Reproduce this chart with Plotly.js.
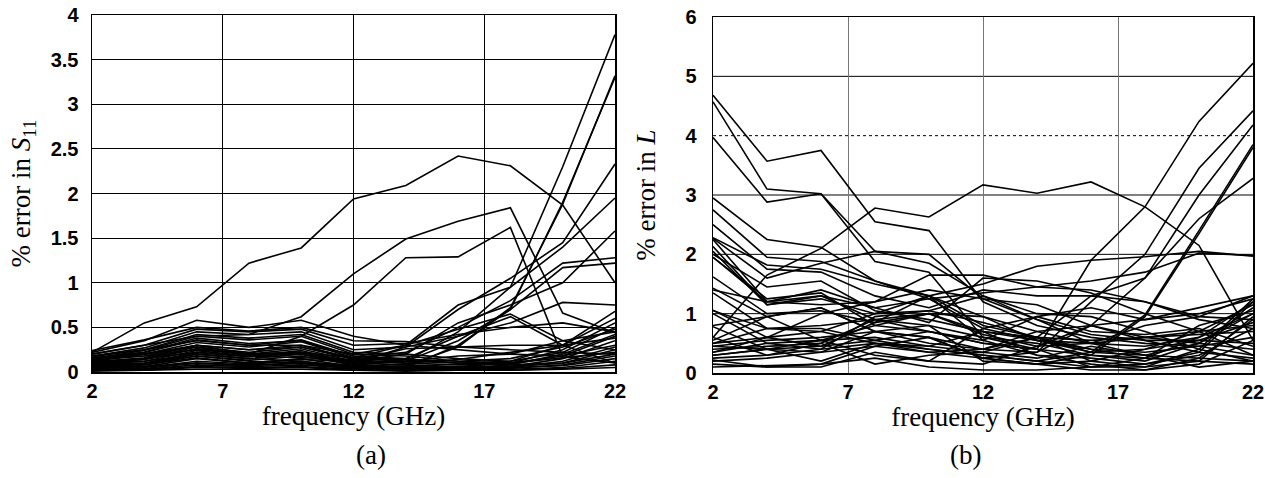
<!DOCTYPE html>
<html>
<head>
<meta charset="utf-8">
<script src="https://cdn.plot.ly/plotly-3.0.1.min.js"></script>
<style>html,body{margin:0;padding:0;background:#fff;}#chart{width:1265px;height:478px;}</style>
</head>
<body>
<div id="chart"></div>
<script>
// frequency points (GHz)
const frequencies = [2,4,6,8,10,12,14,16,18,20,22];
const xTickVals = [2,7,12,17,22];
// (b) horizontal reference lines: solid ones and the dotted 4 % line
const gridSolidB = [1,2,3,5];
const gridDottedB = [4];

// (a) % error in S11, one array per structure
const s11_01 = [0.22,0.55,0.73,1.22,1.39,1.94,2.09,2.42,2.31,1.87,1.00];
const s11_02 = [0.20,0.30,0.40,0.42,0.62,1.10,1.49,1.69,1.84,0.66,0.44];
const s11_03 = [0.15,0.18,0.25,0.20,0.40,0.75,1.28,1.29,1.62,0.17,0.10];
const s11_04 = [0.05,0.06,0.10,0.08,0.10,0.08,0.12,0.45,0.95,2.30,3.78];
const s11_05 = [0.10,0.12,0.20,0.15,0.12,0.06,0.05,0.30,0.70,1.90,3.30];
const s11_06 = [0.08,0.10,0.18,0.12,0.10,0.05,0.07,0.28,0.72,1.88,3.32];
const s11_07 = [0.12,0.15,0.22,0.18,0.20,0.10,0.28,0.70,1.05,1.45,2.33];
const s11_08 = [0.18,0.25,0.35,0.30,0.30,0.20,0.30,0.75,0.95,1.40,1.95];
const s11_09 = [0.10,0.14,0.26,0.20,0.22,0.12,0.20,0.55,0.75,1.00,1.58];
const s11_10 = [0.14,0.20,0.30,0.25,0.28,0.16,0.22,0.50,0.80,1.22,1.28];
const s11_11 = [0.16,0.22,0.38,0.32,0.35,0.18,0.12,0.35,0.70,1.17,1.22];
const s11_12 = [0.22,0.35,0.58,0.50,0.58,0.40,0.30,0.25,0.20,0.35,0.45];
const s11_13 = [0.20,0.30,0.48,0.45,0.48,0.30,0.32,0.42,0.50,0.55,0.45];
const s11_14 = [0.18,0.27,0.45,0.42,0.45,0.25,0.28,0.40,0.55,0.78,0.75];
const s11_15 = [0.17,0.25,0.42,0.38,0.42,0.22,0.20,0.15,0.12,0.30,0.60];
const s11_16 = [0.15,0.24,0.40,0.36,0.40,0.20,0.18,0.12,0.10,0.25,0.55];
const s11_17 = [0.14,0.22,0.36,0.30,0.36,0.18,0.15,0.10,0.12,0.22,0.50];
const s11_18 = [0.12,0.20,0.33,0.28,0.34,0.16,0.14,0.12,0.15,0.28,0.48];
const s11_19 = [0.11,0.16,0.30,0.25,0.30,0.15,0.12,0.10,0.08,0.20,0.42];
const s11_20 = [0.10,0.15,0.28,0.22,0.28,0.14,0.10,0.08,0.10,0.18,0.40];
const s11_21 = [0.09,0.14,0.26,0.20,0.26,0.12,0.10,0.14,0.22,0.30,0.38];
const s11_22 = [0.08,0.12,0.24,0.18,0.24,0.10,0.08,0.06,0.06,0.15,0.35];
const s11_23 = [0.07,0.10,0.22,0.17,0.22,0.10,0.12,0.18,0.20,0.18,0.30];
const s11_24 = [0.06,0.09,0.20,0.15,0.20,0.08,0.06,0.05,0.05,0.12,0.28];
const s11_25 = [0.05,0.08,0.18,0.13,0.18,0.08,0.05,0.04,0.08,0.10,0.25];
const s11_26 = [0.05,0.06,0.15,0.10,0.15,0.06,0.05,0.06,0.10,0.16,0.22];
const s11_27 = [0.04,0.05,0.12,0.09,0.12,0.05,0.04,0.05,0.06,0.10,0.20];
const s11_28 = [0.03,0.04,0.10,0.07,0.10,0.04,0.05,0.04,0.04,0.08,0.18];
const s11_29 = [0.03,0.03,0.08,0.06,0.08,0.04,0.03,0.03,0.05,0.07,0.15];
const s11_30 = [0.02,0.03,0.06,0.05,0.06,0.03,0.02,0.03,0.03,0.05,0.12];
const s11_31 = [0.02,0.02,0.05,0.04,0.05,0.02,0.02,0.02,0.02,0.04,0.08];
const s11_32 = [0.01,0.02,0.03,0.03,0.03,0.02,0.01,0.02,0.02,0.03,0.05];
const s11_33 = [0.24,0.36,0.50,0.46,0.50,0.35,0.34,0.28,0.25,0.22,0.20];
const s11_34 = [0.13,0.18,0.30,0.20,0.22,0.16,0.30,0.48,0.65,0.35,0.25];
const s11_35 = [0.16,0.20,0.28,0.18,0.16,0.14,0.15,0.40,0.62,0.30,0.68];
const s11_36 = [0.06,0.08,0.16,0.10,0.14,0.12,0.26,0.28,0.30,0.30,0.10];

// (b) % error in L, one array per structure
const L_01 = [4.68,3.57,3.75,2.55,2.40,1.20,0.80,0.60,0.50,0.45,0.30];
const L_02 = [4.57,3.10,3.02,2.05,1.85,1.30,0.90,0.50,0.30,0.25,0.20];
const L_03 = [3.97,2.88,3.02,1.88,1.70,0.60,0.40,0.30,0.25,0.20,0.15];
const L_04 = [2.95,2.25,2.12,1.55,1.30,0.80,0.60,0.55,0.60,0.70,0.80];
const L_05 = [0.60,1.65,2.10,2.78,2.63,3.17,3.03,3.22,2.80,2.15,0.55];
const L_06 = [0.30,0.40,0.45,0.55,0.70,0.50,0.40,1.90,2.80,4.24,5.22];
const L_07 = [0.45,0.55,0.60,0.70,0.60,0.40,0.35,1.20,2.00,3.45,4.42];
const L_08 = [0.35,0.50,0.55,0.80,1.00,0.65,0.45,0.80,1.60,3.00,4.18];
const L_09 = [0.25,0.30,0.40,0.50,0.40,0.30,0.20,0.35,0.98,2.40,3.85];
const L_10 = [0.20,0.25,0.35,0.45,0.35,0.25,0.15,0.30,0.95,2.35,3.80];
const L_11 = [1.05,0.75,0.70,0.50,0.45,0.35,0.60,1.30,1.60,2.60,3.28];
const L_12 = [2.28,1.82,1.75,1.50,1.30,1.50,1.80,1.90,1.96,2.05,1.97];
const L_13 = [1.95,1.20,1.40,1.10,1.25,1.35,1.45,1.55,1.70,2.02,1.98];
const L_14 = [2.75,1.95,1.88,1.55,1.25,0.75,0.55,0.50,0.60,0.65,0.70];
const L_15 = [2.50,1.75,1.70,1.30,1.10,1.40,1.30,1.30,1.20,0.90,0.75];
const L_16 = [2.27,1.60,1.85,2.05,2.00,1.25,0.90,0.65,0.55,0.55,0.50];
const L_17 = [2.25,1.20,1.15,1.20,1.65,1.65,1.45,1.40,1.20,0.95,0.90];
const L_18 = [2.13,1.15,1.25,1.00,1.05,0.85,0.60,0.35,0.40,0.55,0.85];
const L_19 = [2.05,1.15,1.30,0.90,0.80,0.60,0.50,0.30,0.20,0.50,1.10];
const L_20 = [2.00,1.45,1.55,1.05,0.90,0.70,0.30,0.25,0.15,0.35,1.20];
const L_21 = [1.95,1.25,1.35,0.80,0.70,0.50,0.40,0.10,0.10,0.40,1.25];
const L_22 = [1.62,1.00,1.05,0.85,1.00,0.95,0.70,0.50,0.45,0.60,1.00];
const L_23 = [1.43,0.95,1.10,0.70,0.60,0.25,0.35,0.80,0.90,1.10,1.30];
const L_24 = [1.35,0.75,0.75,0.55,0.40,0.30,0.20,0.10,0.15,0.30,0.75];
const L_25 = [1.06,0.60,0.45,0.85,1.30,0.55,0.30,0.15,0.05,0.15,0.55];
const L_26 = [1.00,0.50,0.40,0.95,1.05,1.30,1.00,0.95,0.70,0.40,0.20];
const L_27 = [0.78,0.40,0.55,0.60,0.45,0.70,0.55,0.40,0.35,0.45,0.60];
const L_28 = [0.55,0.95,0.55,0.30,0.20,0.75,0.95,0.70,0.65,0.75,0.45];
const L_29 = [0.50,0.75,0.80,0.90,1.00,0.70,0.60,0.20,0.10,0.20,0.95];
const L_30 = [0.45,0.40,0.35,0.70,0.80,0.20,0.15,0.05,0.05,0.25,0.90];
const L_31 = [0.35,0.60,0.70,1.00,1.30,0.95,0.55,0.35,0.30,0.50,1.00];
const L_32 = [0.30,0.40,0.20,0.50,0.35,0.40,0.60,0.40,0.25,0.80,1.05];
const L_33 = [0.22,0.10,0.15,0.45,0.60,0.25,0.15,0.20,0.40,0.70,1.15];
const L_34 = [0.10,0.12,0.15,0.25,0.10,0.05,0.05,0.10,0.25,0.60,1.20];
const L_35 = [0.50,0.60,1.00,1.20,1.40,1.25,1.15,0.80,0.55,0.35,0.25];
const L_36 = [1.40,1.20,1.30,1.10,0.85,1.60,1.55,1.35,1.00,0.70,0.30];
const L_37 = [0.80,0.95,1.10,0.70,0.50,0.40,0.70,0.80,0.60,0.50,0.40];
const L_38 = [0.40,0.45,0.50,0.15,0.30,0.35,0.25,0.45,0.30,0.10,0.20];
const L_39 = [0.15,0.10,0.10,0.35,0.20,0.15,0.45,0.50,0.80,0.95,1.30];
const L_40 = [0.60,0.30,0.50,0.90,0.70,0.55,0.95,1.10,0.90,1.00,1.25];

const seriesA = [s11_01,s11_02,s11_03,s11_04,s11_05,s11_06,s11_07,s11_08,s11_09,s11_10,s11_11,s11_12,
  s11_13,s11_14,s11_15,s11_16,s11_17,s11_18,s11_19,s11_20,s11_21,s11_22,s11_23,s11_24,s11_25,s11_26,
  s11_27,s11_28,s11_29,s11_30,s11_31,s11_32,s11_33,s11_34,s11_35,s11_36];
const seriesB = [L_01,L_02,L_03,L_04,L_05,L_06,L_07,L_08,L_09,L_10,L_11,L_12,L_13,L_14,L_15,L_16,L_17,
  L_18,L_19,L_20,L_21,L_22,L_23,L_24,L_25,L_26,L_27,L_28,L_29,L_30,L_31,L_32,L_33,L_34,L_35,L_36,L_37,
  L_38,L_39,L_40];

const lineStyle = {color:'#000', width:1.6};
const traces = [];
seriesA.forEach(v => traces.push({x:frequencies, y:v, type:'scatter', mode:'lines', line:lineStyle,
  xaxis:'x', yaxis:'y', showlegend:false, hoverinfo:'skip'}));
seriesB.forEach(v => traces.push({x:frequencies, y:v, type:'scatter', mode:'lines', line:lineStyle,
  xaxis:'x2', yaxis:'y2', showlegend:false, hoverinfo:'skip'}));

const tickFont = {family:'Liberation Sans, Arial, sans-serif', size:20, color:'#000', weight:'bold'};
const titleFont = {family:'Liberation Serif, Times New Roman, serif', size:27, color:'#000'};
const W = 1265, H = 478;

const baseX = {range:[2,22], tickvals:xTickVals, showline:true, mirror:true, linecolor:'#000', linewidth:1.5,
  showgrid:true, gridwidth:1, ticks:'', tickfont:tickFont, zeroline:false, fixedrange:true,
  title:{text:'frequency (GHz)', font:titleFont, standoff:4}};

const shapes = [];
gridSolidB.forEach(v => shapes.push({type:'line', xref:'x2 domain', yref:'y2', x0:0, x1:1, y0:v, y1:v,
  layer:'below', line:{color:'#000', width:1}}));
gridDottedB.forEach(v => shapes.push({type:'line', xref:'x2 domain', yref:'y2', x0:0, x1:1, y0:v, y1:v,
  layer:'below', line:{color:'#000', width:1, dash:'dot'}}));

const layout = {
  width:W, height:H, margin:{l:0,r:0,t:0,b:0}, paper_bgcolor:'#fff', plot_bgcolor:'rgba(0,0,0,0)',
  xaxis: Object.assign({}, baseX, {domain:[92/W, 615/W], anchor:'y', gridcolor:'#000'}),
  yaxis: {domain:[1-372/H, 1-15/H], range:[0,4], dtick:0.5, anchor:'x', showline:true, mirror:true,
    linecolor:'#000', linewidth:1.5, showgrid:true, gridcolor:'#000', gridwidth:1, ticks:'', tickfont:tickFont,
    ticklabelstandoff:8, zeroline:false, fixedrange:true,
    title:{text:'% error in <i>S</i><sub>11</sub>', font:titleFont, standoff:12}},
  xaxis2: Object.assign({}, baseX, {domain:[713/W, 1253/W], anchor:'y2', gridcolor:'#777'}),
  yaxis2: {domain:[1-373/H, 1-17/H], range:[0,6], dtick:1, anchor:'x2', showline:true, mirror:true,
    linecolor:'#000', linewidth:1.5, showgrid:false, ticks:'', tickfont:tickFont,
    ticklabelstandoff:11, zeroline:false, fixedrange:true,
    title:{text:'% error in <i>L</i>', font:titleFont, standoff:22}},
  shapes: shapes,
  annotations:[
    {text:'(a)', xref:'paper', yref:'paper', x:(92+615)/2/W, y:1-455/H, showarrow:false, font:titleFont, yanchor:'middle'},
    {text:'(b)', xref:'paper', yref:'paper', x:(713+1253)/2/W, y:1-455/H, showarrow:false, font:titleFont, yanchor:'middle'}
  ]
};
Plotly.newPlot('chart', traces, layout, {staticPlot:true, displayModeBar:false});
</script>
</body>
</html>
